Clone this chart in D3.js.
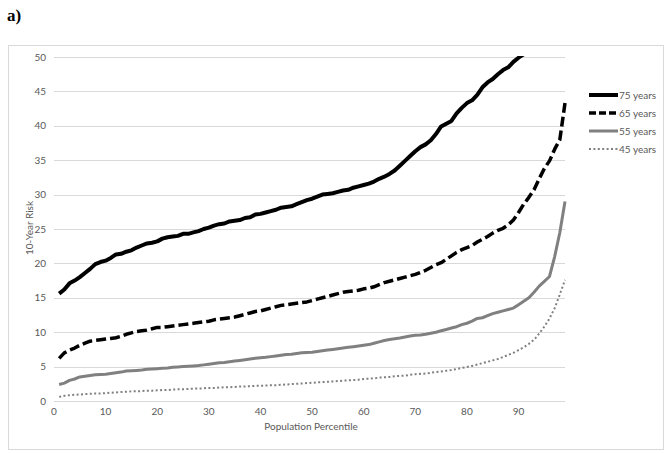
<!DOCTYPE html>
<html lang="en">
<head>
    <meta charset="UTF-8">
    <title>10-Year Risk by Population Percentile</title>
    <script src="https://d3js.org/d3.v7.min.js"></script>
    <style>
        body { margin: 0; background: #fff; }
        .grid line { stroke: #d9d9d9; stroke-width: 1; }
        .tick-label, .legend text, .axis-title { font-family: Lato, "Open Sans", sans-serif; fill: #595959; }
    </style>
</head>
<body>
    <script>
        // Data (percentiles 1..99)
        const percentiles = d3.range(1, 100);
        const xTicks = [0, 10, 20, 30, 40, 50, 60, 70, 80, 90];
        const yTicks = [0, 5, 10, 15, 20, 25, 30, 35, 40, 45, 50];

        const risk75 = [15.6, 16.2, 17.1, 17.5, 18.0, 18.6, 19.2, 19.9, 20.2, 20.4,
            20.8, 21.3, 21.4, 21.7, 21.9, 22.3, 22.6, 22.9, 23.0, 23.2,
            23.6, 23.8, 23.9, 24.0, 24.3, 24.3, 24.5, 24.7, 25.0, 25.2,
            25.5, 25.7, 25.8, 26.1, 26.2, 26.3, 26.6, 26.7, 27.1, 27.2,
            27.4, 27.6, 27.8, 28.1, 28.2, 28.3, 28.6, 28.9, 29.2, 29.4,
            29.7, 30.0, 30.1, 30.2, 30.4, 30.6, 30.7, 31.0, 31.2, 31.4,
            31.6, 31.9, 32.3, 32.6, 33.0, 33.5, 34.2, 34.9, 35.6, 36.3,
            36.9, 37.3, 37.9, 38.8, 39.9, 40.3, 40.7, 41.8, 42.6, 43.3,
            43.7, 44.5, 45.6, 46.3, 46.8, 47.5, 48.1, 48.5, 49.3, 49.9,
            50.4];
        const risk65 = [6.2, 7.0, 7.4, 7.7, 8.1, 8.4, 8.7, 8.8, 8.9, 9.0,
            9.1, 9.2, 9.4, 9.7, 9.9, 10.1, 10.2, 10.3, 10.5, 10.7,
            10.7, 10.8, 10.9, 11.0, 11.1, 11.2, 11.3, 11.4, 11.5, 11.6,
            11.8, 11.9, 12.0, 12.1, 12.2, 12.4, 12.6, 12.8, 13.0, 13.1,
            13.3, 13.5, 13.7, 13.9, 14.0, 14.1, 14.2, 14.3, 14.4, 14.6,
            14.8, 15.0, 15.2, 15.4, 15.6, 15.8, 15.9, 16.0, 16.1, 16.3,
            16.4, 16.6, 16.9, 17.2, 17.4, 17.6, 17.8, 18.0, 18.2, 18.4,
            18.7, 19.0, 19.4, 19.8, 20.1, 20.6, 21.1, 21.6, 22.0, 22.3,
            22.6, 23.1, 23.5, 23.9, 24.4, 24.8, 25.1, 25.6, 26.3, 27.4,
            28.6, 29.6, 30.7, 32.3, 33.8, 34.9, 36.6, 38.0, 43.3];
        const risk55 = [2.4, 2.6, 3.0, 3.2, 3.5, 3.6, 3.7, 3.8, 3.85, 3.9,
            4.0, 4.1, 4.2, 4.35, 4.4, 4.45, 4.5, 4.6, 4.65, 4.7,
            4.75, 4.8, 4.9, 4.95, 5.0, 5.05, 5.1, 5.15, 5.25, 5.35,
            5.45, 5.55, 5.6, 5.7, 5.8, 5.9, 6.0, 6.1, 6.2, 6.3,
            6.35, 6.45, 6.55, 6.65, 6.75, 6.8, 6.9, 7.0, 7.05, 7.1,
            7.2, 7.3, 7.4, 7.5, 7.6, 7.7, 7.8, 7.9, 8.0, 8.1,
            8.2, 8.4, 8.6, 8.8, 8.95, 9.05, 9.15, 9.3, 9.45, 9.55,
            9.6, 9.7, 9.85, 10.0, 10.2, 10.4, 10.6, 10.8, 11.1, 11.3,
            11.6, 12.0, 12.1, 12.4, 12.7, 12.9, 13.1, 13.3, 13.5, 14.0,
            14.5, 15.0, 15.8, 16.7, 17.4, 18.1, 21.0, 24.5, 29.0];
        const risk45 = [0.6, 0.75, 0.85, 0.9, 0.95, 1.0, 1.05, 1.1, 1.1, 1.15,
            1.2, 1.25, 1.3, 1.35, 1.4, 1.4, 1.45, 1.5, 1.5, 1.55,
            1.6, 1.6, 1.65, 1.7, 1.7, 1.75, 1.8, 1.8, 1.85, 1.9,
            1.9, 1.95, 2.0, 2.0, 2.05, 2.1, 2.1, 2.15, 2.2, 2.2,
            2.25, 2.3, 2.3, 2.35, 2.4, 2.45, 2.5, 2.55, 2.6, 2.65,
            2.7, 2.75, 2.8, 2.85, 2.9, 2.95, 3.0, 3.05, 3.1, 3.2,
            3.25, 3.3, 3.4, 3.45, 3.5, 3.6, 3.65, 3.7, 3.8, 3.9,
            3.95, 4.0, 4.1, 4.2, 4.3, 4.4, 4.5, 4.65, 4.8, 4.95,
            5.1, 5.3, 5.5, 5.7, 5.9, 6.1, 6.4, 6.7, 7.0, 7.4,
            7.8, 8.3, 8.9, 9.8, 10.8, 12.0, 13.5, 15.5, 17.6];

        const seriesNames = ["75 years", "65 years", "55 years", "45 years"];
        const seriesValues = [risk75, risk65, risk55, risk45];
        const seriesStyle = [
            { color: "#000", width: 4, dash: null },
            { color: "#000", width: 3.5, dash: "10,4" },
            { color: "#808080", width: 3, dash: null },
            { color: "#808080", width: 2, dash: "2,2.4" }
        ];

        const width = 670, height = 453;
        const margin = { left: 54, right: 105, top: 57, bottom: 52 };

        const svg = d3.select("body").append("svg")
            .attr("width", width)
            .attr("height", height);

        // Label above the chart
        svg.append("text")
            .attr("x", 7).attr("y", 21)
            .attr("font-family", "'Liberation Serif', 'Times New Roman', serif")
            .attr("font-weight", "bold")
            .attr("font-size", 17)
            .text("a)");

        // Chart frame
        svg.append("rect")
            .attr("x", 8.5).attr("y", 45.5)
            .attr("width", 655).attr("height", 404)
            .attr("fill", "none")
            .attr("stroke", "#d9d9d9");

        const x = d3.scaleLinear().domain([0, 99]).range([margin.left, width - margin.right]);
        const y = d3.scaleLinear().domain([0, 50]).range([height - margin.bottom, margin.top]);

        // Horizontal gridlines
        svg.append("g").attr("class", "grid")
            .selectAll("line")
            .data(yTicks)
            .enter().append("line")
            .attr("x1", x(0)).attr("x2", x(99))
            .attr("y1", d => Math.round(y(d)) + 0.5)
            .attr("y2", d => Math.round(y(d)) + 0.5);

        // Tick labels
        svg.append("g").selectAll("text")
            .data(yTicks)
            .enter().append("text")
            .attr("class", "tick-label")
            .attr("x", x(0) - 8)
            .attr("y", d => y(d) + 3.5)
            .attr("text-anchor", "end")
            .attr("font-size", 10)
            .text(d => d);

        svg.append("g").selectAll("text")
            .data(xTicks)
            .enter().append("text")
            .attr("class", "tick-label")
            .attr("x", d => x(d))
            .attr("y", y(0) + 14)
            .attr("text-anchor", "middle")
            .attr("font-size", 10)
            .text(d => d);

        // Axis titles
        svg.append("text")
            .attr("class", "axis-title")
            .attr("x", 311).attr("y", 430)
            .attr("text-anchor", "middle")
            .attr("font-size", 10)
            .text("Population Percentile");

        svg.append("text")
            .attr("class", "axis-title")
            .attr("transform", "translate(33,228) rotate(-90)")
            .attr("text-anchor", "middle")
            .attr("font-size", 10)
            .text("10-Year Risk");

        // Clip lines to plot area
        svg.append("clipPath").attr("id", "plot-clip")
            .append("rect")
            .attr("x", x(0)).attr("y", y(50) - 1)
            .attr("width", x(99) - x(0) + 5)
            .attr("height", y(0) - y(50) + 6);

        const line = d3.line()
            .x((d, i) => x(percentiles[i]))
            .y(d => y(d));

        // Draw from back (45) to front (75)
        const order = [3, 2, 1, 0];
        svg.append("g").attr("clip-path", "url(#plot-clip)")
            .selectAll("path")
            .data(order)
            .enter().append("path")
            .attr("d", i => line(seriesValues[i]))
            .attr("fill", "none")
            .attr("stroke", i => seriesStyle[i].color)
            .attr("stroke-width", i => seriesStyle[i].width)
            .attr("stroke-dasharray", i => seriesStyle[i].dash)
            .attr("stroke-linejoin", "round");

        // Legend
        const legend = svg.append("g").attr("class", "legend")
            .selectAll("g")
            .data(seriesNames)
            .enter().append("g")
            .attr("transform", (d, i) => `translate(589,${95 + i * 18})`);

        legend.append("line")
            .attr("x1", 0).attr("x2", 29)
            .attr("stroke", (d, i) => seriesStyle[i].color)
            .attr("stroke-width", (d, i) => seriesStyle[i].width)
            .attr("stroke-dasharray", (d, i) => i === 1 ? "7,3" : seriesStyle[i].dash);

        legend.append("text")
            .attr("x", 30).attr("y", 3.5)
            .attr("font-size", 10)
            .text(d => d);
    </script>
</body>
</html>
